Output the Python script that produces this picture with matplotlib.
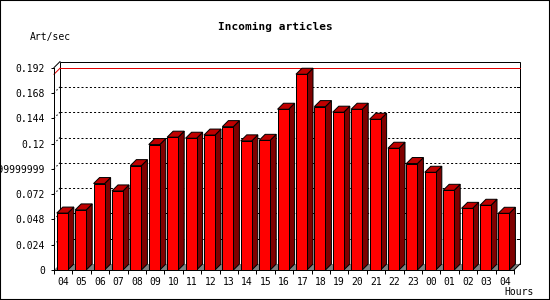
import numpy as np
import matplotlib.pyplot as plt
from matplotlib.patches import Polygon, Rectangle

# data
hours = ['04', '05', '06', '07', '08', '09', '10', '11', '12', '13', '14', '15', '16',
         '17', '18', '19', '20', '21', '22', '23', '00', '01', '02', '03', '04']
rate = [0.054, 0.057, 0.082, 0.075, 0.099, 0.119, 0.126, 0.125, 0.128, 0.136, 0.1225,
        0.123, 0.1525, 0.1857, 0.155, 0.1497, 0.1525, 0.143, 0.1155, 0.101, 0.0927,
        0.0756, 0.0585, 0.0614, 0.0538]
y_ticks = [0, 0.024, 0.048, 0.072, 0.096, 0.12, 0.144, 0.168, 0.192]
y_labels = ['0', '0.024', '0.048', '0.072', '0.09999999999', '0.12', '0.144', '0.168', '0.192']

plt.rcParams['font.family'] = 'DejaVu Sans Mono'
plt.rcParams['font.size'] = 7

W, H = 550, 300
fig = plt.figure(figsize=(W / 100, H / 100), dpi=100)
# front face of the plot area, in pixels: x 54..514, y 67.6..270
ax = fig.add_axes([54 / W, 30 / H, 460 / W, 202.4 / H])
n = len(rate)
ymax = y_ticks[-1]
ax.set_xlim(0, n)
ax.set_ylim(0, ymax)

# 3d depth of 6 px, converted to data units
dx = 6 / (460 / n)
dy = 6 / (202.4 / ymax)
lw = 0.72  # one pixel
kw = dict(clip_on=False)

# back wall
ax.add_patch(Rectangle((dx, dy), n, ymax, fc='white', ec='black', lw=lw, zorder=1,
                       snap=True, **kw))
# floor
ax.add_patch(Polygon([(0, 0), (n, 0), (n + dx, dy), (dx, dy)], closed=True,
                     fc='#808080', ec='none', zorder=1.5, **kw))
# dotted grid on the back wall
for v in y_ticks[1:-1]:
    ax.plot([dx, n + dx], [v + dy, v + dy], color='black', lw=lw,
            ls=(0, (2, 2.2)), snap=True, zorder=2, **kw)
    ax.plot([0, dx], [v, v + dy], color='black', lw=lw, ls=(0, (1.5, 2)), zorder=2, **kw)
    ax.plot([n + dx - 0.15, n + dx], [v + dy, v + dy], color='black', lw=lw,
            snap=True, zorder=2, **kw)
# max line
m = max(rate)
ax.plot([0, dx], [m, m + dy], color='#e00000', lw=lw, zorder=2.5, **kw)
ax.plot([dx, n + dx], [m + dy, m + dy], color='#e00000', lw=lw, snap=True, zorder=2.5, **kw)

# frame diagonals
ax.plot([0, dx], [ymax, ymax + dy], color='black', lw=lw, zorder=3, **kw)
ax.plot([n, n + dx], [0, dy], color='black', lw=lw, zorder=6, **kw)

# bars
bw = 0.6
for i, v in enumerate(rate):
    x0 = i + 0.15
    x1 = x0 + bw
    ax.add_patch(Polygon([(x1, 0), (x1 + dx, dy), (x1 + dx, v + dy), (x1, v)], closed=True,
                         fc='#800000', ec='black', lw=lw, zorder=4, **kw))
    ax.add_patch(Polygon([(x0, v), (x1, v), (x1 + dx, v + dy), (x0 + dx, v + dy)], closed=True,
                         fc='#c00000', ec='black', lw=lw, zorder=4, **kw))
    ax.add_patch(Rectangle((x0, 0), bw, v, fc='#ff0000', ec='black', lw=lw, zorder=5,
                           snap=True, **kw))

# axes and ticks
ax.patch.set_visible(False)
for s in ['top', 'right']:
    ax.spines[s].set_visible(False)
for s in ['left', 'bottom']:
    ax.spines[s].set_linewidth(lw)
    ax.spines[s].set_zorder(6)
ax.set_yticks(y_ticks, y_labels)
ax.tick_params(axis='y', length=2.3, width=lw, pad=4.2)
ax.set_xticks(np.arange(n + 1), [''] * (n + 1))
ax.set_xticks(np.arange(n) + 0.5, hours, minor=True)
ax.tick_params(axis='x', which='major', length=2.6, width=lw)
ax.tick_params(axis='x', which='minor', length=0, pad=5)

# texts
fig.text(0.5, 1 - 27 / H, 'Incoming articles', ha='center', va='center',
         fontsize=8, fontweight='bold')
fig.text(30 / W, 1 - 37 / H, 'Art/sec', ha='left', va='center')
fig.text(534 / W, 1 - 292 / H, 'Hours', ha='right', va='center')

# outer border
fig.patches.append(Rectangle((0, 0), 1, 1, transform=fig.transFigure, fill=False,
                             ec='black', lw=1.5))

fig.savefig('out.png', dpi=100)
